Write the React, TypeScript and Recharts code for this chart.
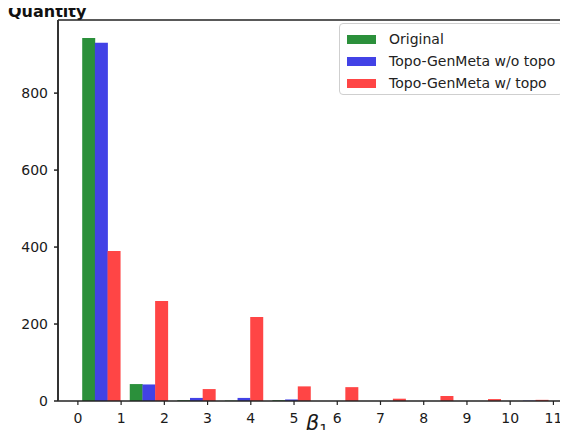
import { Bar, BarChart, Legend, XAxis, YAxis } from "recharts";

// histogram bins (10 bins over 0..11), centre of each bin
const binCenters = [0.55, 1.65, 2.75, 3.85, 4.95, 6.05, 7.15, 8.25, 9.35, 10.45];
const original = [943, 44, 2, 1, 2, 0, 0, 0, 0, 0];
const withoutTopo = [931, 43, 8, 8, 4, 0, 0, 0, 0, 1];
const withTopo = [390, 260, 31, 218, 38, 36, 6, 13, 5, 3];

const xTicks = [0, 1, 2, 3, 4, 5, 6, 7, 8, 9, 10, 11];
const yTicks = [0, 200, 400, 600, 800];

const seriesNames = ["Original", "Topo-GenMeta w/o topo", "Topo-GenMeta w/ topo"];
const colors = ["#2b903b", "#4242e6", "#ff4545"];

// each bin is split into 3 bars covering 80% of the bin width
const barStep = (1.1 * 0.8) / 3;

const data = binCenters.map((c, i) => ({
  xg: c - barStep,
  xb: c,
  xr: c + barStep,
  original: original[i],
  withoutTopo: withoutTopo[i],
  withTopo: withTopo[i],
}));

const xDomain = [-0.46, 11.43];
const font = "DejaVu Sans, sans-serif";
const axisColor = "#222";

// y tick: label plus an outward tick mark
function YTick(props: any) {
  const { x, y, payload } = props;
  return (
    <g>
      <line x1={x + 6} x2={x + 10} y1={y} y2={y} stroke={axisColor} strokeWidth={1.5} />
      <text x={x} y={y} dy="0.355em" textAnchor="end" fill="#1a1a1a" fontSize={14} fontFamily={font}>
        {payload.value}
      </text>
    </g>
  );
}

function LegendBox() {
  return (
    <div
      style={{
        width: 224,
        height: 72,
        boxSizing: "border-box",
        border: "1px solid #cfcfcf",
        borderRadius: 4,
        background: "rgba(255,255,255,0.85)",
        fontFamily: font,
        fontSize: 14,
        color: "#222",
        position: "relative",
      }}
    >
      {seriesNames.map((name, i) => (
        <div
          key={name}
          style={{ position: "absolute", left: 7, top: 7 + i * 22, display: "flex", alignItems: "center" }}
        >
          <span style={{ display: "inline-block", width: 29, height: 9, background: colors[i], marginRight: 13 }} />
          <span style={{ lineHeight: "16px", whiteSpace: "nowrap" }}>{name}</span>
        </div>
      ))}
    </div>
  );
}

export default function App() {
  return (
    <div style={{ width: 568, height: 438, margin: -8, overflow: "hidden", background: "#fff", position: "relative" }}>
      <div
        style={{
          position: "absolute",
          left: 8,
          top: 3,
          fontFamily: font,
          fontWeight: "bold",
          fontSize: 16,
          lineHeight: "18px",
          color: "#111",
        }}
      >
        Quantity
      </div>
      <BarChart
        width={576}
        height={438}
        data={data}
        margin={{ top: 19, right: 4, bottom: 0, left: 8 }}
      >
        <XAxis xAxisId="g" dataKey="xg" type="number" domain={xDomain} allowDataOverflow hide height={0} />
        <XAxis xAxisId="r" dataKey="xr" type="number" domain={xDomain} allowDataOverflow hide height={0} />
        <XAxis
          xAxisId="main"
          dataKey="xb"
          type="number"
          domain={xDomain}
          allowDataOverflow
          ticks={xTicks}
          interval={0}
          height={37}
          tickSize={4}
          tickMargin={8}
          stroke={axisColor}
          axisLine={{ stroke: axisColor, strokeWidth: 1.4 }}
          tickLine={{ stroke: axisColor, strokeWidth: 1.2 }}
          tick={{ fill: "#1a1a1a", fontSize: 14, fontFamily: font }}
          label={{
            content: (props: any) => {
              const vb = props.viewBox;
              return (
                <text
                  x={vb.x + vb.width / 2 + 2}
                  y={vb.y + 29}
                  textAnchor="middle"
                  fontFamily={font}
                  fill="#1a1a1a"
                >
                  <tspan fontSize={21} fontStyle="italic">β</tspan>
                  <tspan fontSize={14} dy={4}>1</tspan>
                </text>
              );
            },
          }}
        />
        <XAxis
          xAxisId="top"
          orientation="top"
          dataKey="xb"
          type="number"
          domain={xDomain}
          ticks={xTicks}
          allowDataOverflow
          height={1}
          tick={false}
          tickLine={false}
          stroke={axisColor}
          axisLine={{ stroke: axisColor, strokeWidth: 1.4 }}
        />
        <YAxis
          type="number"
          domain={[0, 990]}
          ticks={yTicks}
          interval={0}
          width={50}
          tickSize={4}
          tickMargin={6}
          stroke={axisColor}
          axisLine={{ stroke: "#333", strokeWidth: 2 }}
          tickLine={false}
          tick={<YTick />}
        />
        <Legend
          layout="vertical"
          align="center"
          verticalAlign="middle"
          content={() => <LegendBox />}
          wrapperStyle={{ top: 23, left: 339 }}
        />
        <Bar xAxisId="g" dataKey="original" name={seriesNames[0]} fill={colors[0]} barSize={13} isAnimationActive={false} />
        <Bar xAxisId="main" dataKey="withoutTopo" name={seriesNames[1]} fill={colors[1]} barSize={13} isAnimationActive={false} />
        <Bar xAxisId="r" dataKey="withTopo" name={seriesNames[2]} fill={colors[2]} barSize={13} isAnimationActive={false} />
      </BarChart>
    </div>
  );
}
